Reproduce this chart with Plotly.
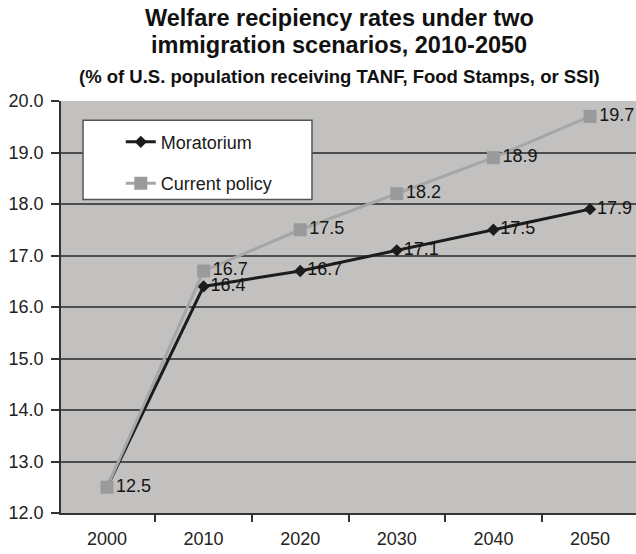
import plotly.graph_objects as go

years = ["2000", "2010", "2020", "2030", "2040", "2050"]
moratorium = [12.5, 16.4, 16.7, 17.1, 17.5, 17.9]
current_policy = [12.5, 16.7, 17.5, 18.2, 18.9, 19.7]
y_ticks = [12, 13, 14, 15, 16, 17, 18, 19, 20]

title_line1 = "Welfare recipiency rates under two"
title_line2 = "immigration scenarios, 2010-2050"
subtitle = "(% of U.S. population receiving TANF, Food Stamps, or SSI)"

FONT = "Liberation Sans, Arial, sans-serif"

mor_text = [""] + [f"{v:.1f}" for v in moratorium[1:]]
cur_text = [f"{v:.1f}" for v in current_policy]

fig = go.Figure()
fig.add_trace(go.Scatter(
    x=years, y=moratorium, name="Moratorium", legendgroup="a",
    mode="lines+markers+text", text=mor_text, textposition="middle right",
    textfont=dict(size=18, color="#151515", family=FONT),
    line=dict(color="#1c1c1c", width=3),
    marker=dict(symbol="diamond", size=9.5, color="#1c1c1c"),
    cliponaxis=False,
))
fig.add_trace(go.Scatter(
    x=years, y=current_policy, name="Current policy", legendgroup="b",
    mode="lines+markers+text", text=cur_text, textposition="middle right",
    textfont=dict(size=18, color="#151515", family=FONT),
    line=dict(color="#a6a6a6", width=3),
    marker=dict(symbol="square", size=13, color="#9a9a9a"),
    cliponaxis=False,
))

fig.update_layout(
    width=636, height=554,
    margin=dict(l=61, r=0, t=101, b=41),
    paper_bgcolor="white",
    plot_bgcolor="#c2c1bf",
    font=dict(family=FONT, size=18, color="#222"),
    showlegend=True,
    legend=dict(
        x=0.104, y=0.945, xanchor="left", yanchor="top",
        bgcolor="rgba(0,0,0,0)", borderwidth=0,
        font=dict(size=18, color="#1a1a1a", family=FONT),
        traceorder="grouped", tracegroupgap=15,
    ),
    xaxis=dict(
        type="category", range=[-0.476, 5.476],
        tickson="boundaries", ticks="outside", ticklen=7, tickwidth=1.5,
        tickcolor="#333", showgrid=False, showline=True, linecolor="#333",
        linewidth=1.5, tickfont=dict(size=18, color="#222"),
        ticklabelstandoff=9, zeroline=False,
    ),
    yaxis=dict(
        range=[12, 20], tickvals=y_ticks, tickformat=".1f",
        ticks="outside", ticklen=8, tickwidth=1.5, tickcolor="#333",
        showgrid=True, gridcolor="#4d4d4d", gridwidth=1.5,
        showline=True, linecolor="#333", linewidth=1.5,
        tickfont=dict(size=18, color="#222"), zeroline=False,
        ticklabelstandoff=4,
    ),
    shapes=[dict(
        type="rect", xref="paper", yref="paper",
        x0=0.0383, x1=0.4365, y0=0.761, y1=0.953,
        fillcolor="white", line=dict(color="#555", width=1.5), layer="above",
    )],
    annotations=[
        dict(text=f"<b>{title_line1}</b>", x=0.4835, y=1.2017, xref="paper", yref="paper",
             showarrow=False, xanchor="center", yanchor="middle",
             font=dict(size=23.5, color="#111", family=FONT)),
        dict(text=f"<b>{title_line2}</b>", x=0.4835, y=1.135, xref="paper", yref="paper",
             showarrow=False, xanchor="center", yanchor="middle",
             font=dict(size=23.5, color="#111", family=FONT)),
        dict(text=f"<b>{subtitle}</b>", x=0.4835, y=1.060, xref="paper", yref="paper",
             showarrow=False, xanchor="center", yanchor="middle",
             font=dict(size=18.5, color="#111", family=FONT)),
    ],
)

fig.write_html("out.html", config={"displayModeBar": False},
               post_script="document.body.style.margin='0';")
